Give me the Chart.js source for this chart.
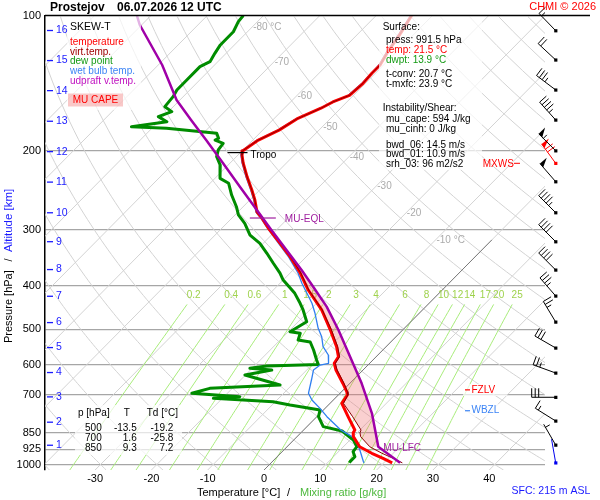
<!DOCTYPE html>
<html><head><meta charset="utf-8">
<style>html,body{margin:0;padding:0;background:#fff}canvas{display:block}</style>
<script src="https://cdn.jsdelivr.net/npm/chart.js@4/dist/chart.umd.min.js"></script>
</head><body>
<canvas id="c" width="600" height="500"></canvas>
<script>
// ---------------- DATA ----------------
const tempP = [100,110,120,128.9,134.5,141.6,150.6,155.8,160.9,170,180,190,200,204.5,213,229,244.7,257.6,274,282.5,297.3,321.1,345,374.6,408.7,452.7,500,546.5,575.4,595,616,660,688,700,731,783,838,850,867,913,944,969,991.5];
const tempT = [-53.7,-52.5,-51.6,-50.6,-50.6,-50.4,-50.7,-52.5,-53.5,-55.9,-57.1,-59.1,-59.9,-59.3,-57.7,-54.5,-51.4,-49.1,-46.6,-44.7,-41.8,-37.1,-32.8,-28.2,-23.8,-17.9,-13.0,-8.8,-6.7,-6.3,-4.8,-1.2,0.9,1.6,2.1,5.6,9.1,9.3,10.0,12.9,16.2,19.1,21.5];
const virtT = [-53.7,-52.5,-51.6,-50.6,-50.6,-50.4,-50.7,-52.5,-53.5,-55.9,-57.1,-59.1,-59.9,-59.3,-57.7,-54.5,-51.4,-49.1,-46.6,-44.7,-41.7,-37.0,-32.7,-28.1,-23.7,-17.8,-12.8,-8.6,-6.5,-6.1,-4.6,-1.0,1.0,1.7,2.4,6.4,10.2,10.5,11.3,14.7,18.0,20.9,23.3];
const dewP = [100,103.2,108.7,116.3,121.4,126.7,130,139.2,146.5,151.6,159.6,163.7,168,172.4,176.9,178.3,183,187.7,189.4,192.6,199.3,206.3,215.3,230.5,236.4,251.1,266.6,278.1,290.3,308.3,321.6,338.5,356.3,374.6,388.3,415.7,437.5,452.7,480.8,506.1,510.3,528.1,533.6,555.9,585.2,598.8,603.4,610.5,616,631.9,665.2,676.6,694.1,706.3,712.2,724.7,737.2,756.2,782.6,823.6,842,882,912.8,936.5,960.7,984,991.5];
const dewT = [-83.6,-83.4,-82.5,-82.5,-82.0,-81.4,-82.3,-82.3,-82.3,-81.8,-81.5,-79.4,-80.9,-78.5,-83.9,-77.4,-67.6,-66.4,-66.7,-64.7,-64.4,-63.5,-61.4,-59.1,-56.7,-54.1,-51.2,-49.4,-46.8,-43.8,-40.6,-37.6,-34.7,-31.8,-30.0,-25.6,-22.9,-21.2,-18.5,-19.7,-17.6,-16.8,-14.3,-12.3,-10.0,-8.9,-17.8,-20.4,-16.2,-20.1,-12.1,-24.0,-26.3,-17.2,-21.6,-10.4,-6.8,-0.6,0.3,2.9,7.0,10.6,12.4,12.6,13.8,13.8,13.9];
const wetP = [100,110,120,128.9,141.6,150.6,160.9,170,180,190,200,204.5,213,229,244.7,257.6,274,282.5,297.3,321.1,345,374.6,394.9,437.5,460.5,497.3,519.2,546.5,570.4,595.2,600.4,616,648.4,694.1,718.4,749.8,782.6,837.9,852.2,874.4,928.4,985.8,991.5];
const wetT = [-53.9,-52.7,-51.8,-50.8,-50.6,-50.9,-53.7,-56.1,-57.3,-59.3,-60.1,-59.5,-57.9,-54.7,-51.6,-49.3,-46.8,-44.9,-42.0,-37.4,-33.1,-28.6,-26.1,-20.8,-18.5,-15.3,-13.2,-11.2,-8.8,-7.3,-8.5,-8.8,-7.4,-5.6,-3.8,-0.9,1.8,6.6,8.2,10.6,13.5,16.2,16.5];
const parcelP = [100,105,128.9,154.2,170.9,189.4,213.4,240.6,271.1,300.4,368.8,401.8,445.1,501.7,585.2,659.6,769.2,912.8,991.5];
const parcelT = [-102.5,-100.3,-89.3,-80.6,-74.5,-68.3,-61.2,-54.1,-47.0,-40.9,-28.5,-23.5,-17.6,-11.4,-3.8,2.1,9.2,16.2,22.9];

const pressureTicks = [100,200,300,400,500,600,700,850,925,1000];
const tempTicks = [-30,-20,-10,0,10,20,30,40];
const altKm = [1,2,3,4,5,6,7,8,9,10,11,12,13,14,15,16];
const altP  = [906,805,707,624,549,483,422,368,319,275,235,201,172,147,126,108];
const mixRatios = [0.2,0.4,0.6,1,1.5,2,3,4,6,8,10,12,14,17,20,25];
const isoLabelT = [-80,-70,-60,-50,-40,-30,-20,-10];
const isoLabelP = [106.1,127.0,151.1,177.1,206.6,239.8,275.4,316.2];

const windP   = [991.5,905.1,800,708.4,625.5,550.2,481.6,421.4,368.8,319,274.9,234.5,213.4,200.1,170.9,146.5,125.6,108.1];
const windDir = [350,330,302,270,290,300,329,319,315,315,315,319,324,315,318,307,313,316];
const windSpd = [2,5,15,30,25,30,25,35,40,40,45,50,70,55,45,35,20,15];
const windMaxIndex = 12;

const tableP  = [500,700,850];
const tableT  = [-13.5,1.6,9.3];
const tableTd = [-19.2,-25.8,7.2];

const sfcPress = 991.5, sfcTemp = 21.5, sfcDwpt = 13.9, tConv = 20.7, tMxfc = 23.9;
const muCape = 594, muCinh = 0, bwd06 = 14.5, bwd01 = 10.9, srh03 = 96;
const tropoP = 202, eqlP = 282.5, lfcP = 912.8, fzlvP = 682, wbzlP = 759;
const stationAlt = 215;

// ---------------- GEOMETRY ----------------
const FONT = '"Liberation Sans", Arial, Helvetica, sans-serif';
const PBOT = 1028.6, SKEW = 78.95, XMIN = -38.9, XMAX = 49.9;
const skewX = (T, p) => T + SKEW * Math.log10(PBOT / p);
const toPts = (ps, ts) => ps.map((p, i) => ({x: skewX(ts[i], p), y: p}));

const capePoly = [
  ...parcelP.map((p, i) => ({p, t: parcelT[i]})).filter(o => o.p >= eqlP && o.p <= lfcP + 0.01).sort((a, b) => b.p - a.p),
  ...tempP.map((p, i) => ({p, t: virtT[i]})).filter(o => o.p >= eqlP && o.p <= lfcP + 1).sort((a, b) => a.p - b.p)
].map(o => ({x: skewX(o.t, o.p), y: o.p}));

function mixTd(w, p) {
  const e = w * p / (622 + w);
  const l = Math.log(e / 6.112);
  return 243.5 * l / (17.67 - l);
}
function txt(ctx, s, x, y, color, size, align, bold) {
  ctx.font = (bold ? 'bold ' : '') + size + 'px ' + FONT;
  ctx.fillStyle = color; ctx.textAlign = align || 'left'; ctx.textBaseline = 'middle';
  ctx.fillText(s, x, y);
  return ctx.measureText(s).width;
}

const bgPlugin = {
  id: 'skewbg',
  beforeDatasetsDraw(chart) {
    const {ctx, chartArea: a, scales: {x, y}} = chart;
    const px = (T, p) => x.getPixelForValue(skewX(T, p));
    const py = p => y.getPixelForValue(p);
    ctx.save();
    ctx.beginPath(); ctx.rect(a.left, a.top, a.right - a.left, a.bottom - a.top); ctx.clip();
    ctx.lineWidth = 1; ctx.strokeStyle = '#d3d3d3';
    for (let T = -140; T <= 50; T += 10) {
      ctx.beginPath(); ctx.moveTo(px(T, PBOT), py(PBOT)); ctx.lineTo(px(T, 100), py(100)); ctx.stroke();
    }
    for (let th = -40; th <= 200; th += 10) {
      ctx.beginPath();
      let first = true;
      for (let p = PBOT; p >= 99; p -= 8) {
        const T = (th + 273.15) * Math.pow(p / 1000, 0.2857) - 273.15;
        if (first) { ctx.moveTo(px(T, p), py(p)); first = false; } else ctx.lineTo(px(T, p), py(p));
      }
      ctx.stroke();
    }
    ctx.strokeStyle = '#a8ec7a';
    mixRatios.forEach(w => {
      ctx.beginPath();
      let first = true;
      for (let p = PBOT; p >= 440; p -= 10) {
        const T = mixTd(w, p);
        if (first) { ctx.moveTo(px(T, p), py(p)); first = false; } else ctx.lineTo(px(T, p), py(p));
      }
      const T = mixTd(w, 440); ctx.lineTo(px(T, 440), py(440));
      ctx.stroke();
    });
    ctx.strokeStyle = '#7a7a7a';
    ctx.beginPath(); ctx.moveTo(px(0, PBOT), py(PBOT)); ctx.lineTo(px(0, 316), py(316)); ctx.stroke();
    mixRatios.forEach(w => txt(ctx, String(w), px(mixTd(w, 420), 420), py(420), '#9fd24c', 10, 'center'));
    isoLabelT.forEach((T, i) => {
      const p = isoLabelP[i];
      txt(ctx, T + ((T === -80 || T === -10) ? ' °C' : ''), px(T, p) + 1, py(p), '#ababab', 10, 'left');
    });
    ctx.restore();
  }
};

function barb(ctx, bx, by, dir, spd, color) {
  const L = 24, r = dir * Math.PI / 180;
  const sx = Math.sin(r), sy = -Math.cos(r);
  const nx = -sy, ny = sx;
  const tx = bx + sx * L, ty = by + sy * L;
  ctx.strokeStyle = color; ctx.fillStyle = color; ctx.lineWidth = 1;
  ctx.beginPath(); ctx.moveTo(bx, by); ctx.lineTo(tx, ty); ctx.stroke();
  let s = Math.round(spd / 5) * 5, pos = 0;
  const BL = 9, step = 3.5;
  while (s >= 50) {
    const ax = tx - sx * pos, ay = ty - sy * pos;
    const cx = tx - sx * (pos + 5), cy = ty - sy * (pos + 5);
    ctx.beginPath(); ctx.moveTo(ax, ay); ctx.lineTo(ax + nx * BL, ay + ny * BL); ctx.lineTo(cx, cy); ctx.closePath(); ctx.fill();
    pos += 6.5; s -= 50;
  }
  while (s >= 10) {
    const ax = tx - sx * pos, ay = ty - sy * pos;
    ctx.beginPath(); ctx.moveTo(ax, ay); ctx.lineTo(ax + nx * BL, ay + ny * BL); ctx.stroke();
    pos += step; s -= 10;
  }
  if (s >= 5) {
    if (pos === 0) pos = step;
    const ax = tx - sx * pos, ay = ty - sy * pos;
    ctx.beginPath(); ctx.moveTo(ax, ay); ctx.lineTo(ax + nx * BL * 0.55, ay + ny * BL * 0.55); ctx.stroke();
  }
  ctx.fillRect(bx - 1.5, by - 1.5, 3.2, 3.2);
}

const fgPlugin = {
  id: 'skewfg',
  afterDatasetsDraw(chart) {
    const {ctx, chartArea: a, scales: {x, y}} = chart;
    const px = (T, p) => x.getPixelForValue(skewX(T, p));
    const py = p => y.getPixelForValue(p);
    const interp = (ps, ts, p) => {
      for (let i = 0; i < ps.length - 1; i++) {
        if (p >= ps[i] && p <= ps[i + 1]) {
          const f = Math.log(p / ps[i]) / Math.log(ps[i + 1] / ps[i]);
          return ts[i] + f * (ts[i + 1] - ts[i]);
        }
      }
      return ts[ts.length - 1];
    };
    ctx.save();
    // translucent panels
    ctx.fillStyle = 'rgba(255,255,255,0.7)';
    [[67,16,74,94],[379,16,103,154],[75,405,107,50],[463,384,44,12],[463,404,44,13]].forEach(b => ctx.fillRect(b[0], b[1], b[2], b[3]));
    // top line
    ctx.strokeStyle = '#000'; ctx.lineWidth = 1.5;
    ctx.beginPath(); ctx.moveTo(a.left, py(100)); ctx.lineTo(590, py(100)); ctx.stroke();
    // legend
    txt(ctx, 'SKEW-T', 70, 27, '#000', 10.5);
    txt(ctx, 'temperature', 70, 42.3, '#ff0000', 10);
    txt(ctx, 'virt.temp.', 70, 52.3, '#a00000', 10);
    txt(ctx, 'dew point', 70, 61.7, '#139a13', 10);
    txt(ctx, 'wet bulb temp.', 70, 71.7, '#3d85f5', 10);
    txt(ctx, 'udpraft v.temp.', 70, 81.7, '#c010c0', 10);
    ctx.fillStyle = 'rgba(240,110,110,0.38)'; ctx.fillRect(68, 93.5, 55, 13);
    txt(ctx, 'MU CAPE', 95.5, 100.5, '#ff0000', 10, 'center');
    // info panel
    txt(ctx, 'Surface:', 382.7, 27.3, '#000', 10);
    txt(ctx, 'press: ' + sfcPress + ' hPa', 386, 40, '#000', 10);
    txt(ctx, 'temp: ' + sfcTemp + ' °C', 386, 50, '#ff0000', 10);
    txt(ctx, 'dwpt: ' + sfcDwpt + ' °C', 386, 60, '#139a13', 10);
    txt(ctx, 't-conv: ' + tConv + ' °C', 386, 74, '#000', 10);
    txt(ctx, 't-mxfc: ' + tMxfc + ' °C', 386, 84.3, '#000', 10);
    txt(ctx, 'Instability/Shear:', 382.7, 108.3, '#000', 10);
    txt(ctx, 'mu_cape: ' + muCape + ' J/kg', 386, 119.3, '#000', 10);
    txt(ctx, 'mu_cinh: ' + muCinh + ' J/kg', 386, 129.3, '#000', 10);
    txt(ctx, 'bwd_06: ' + bwd06 + ' m/s', 386, 145, '#000', 10);
    txt(ctx, 'bwd_01: ' + bwd01 + ' m/s', 386, 154.7, '#000', 10);
    txt(ctx, 'srh_03: ' + srh03 + ' m2/s2', 386, 164.3, '#000', 10);
    // table
    txt(ctx, 'p [hPa]', 78, 413.3, '#000', 10);
    txt(ctx, 'T', 126.7, 413.3, '#000', 10, 'center');
    txt(ctx, 'Td [°C]', 146.7, 413.3, '#000', 10);
    tableP.forEach((p, i) => {
      const yy = 428.3 + i * 10;
      txt(ctx, String(p), 101.7, yy, '#000', 10, 'right');
      txt(ctx, tableT[i].toFixed(1), 136.7, yy, '#000', 10, 'right');
      txt(ctx, tableTd[i].toFixed(1), 173.3, yy, '#000', 10, 'right');
    });
    // markers
    const tT = interp(tempP, tempT, tropoP);
    const tx0 = px(tT, tropoP), ty0 = py(tropoP);
    ctx.strokeStyle = '#000'; ctx.lineWidth = 1.2;
    ctx.beginPath(); ctx.moveTo(tx0 - 15, ty0); ctx.lineTo(tx0 + 5, ty0); ctx.stroke();
    txt(ctx, 'Tropo', tx0 + 8, ty0 + 2.5, '#000', 10);
    const eT = interp(tempP, tempT, eqlP);
    const ex = px(eT, eqlP), ey = py(eqlP);
    ctx.strokeStyle = '#a020a0';
    ctx.beginPath(); ctx.moveTo(ex - 12, ey); ctx.lineTo(ex + 14, ey); ctx.stroke();
    txt(ctx, 'MU-EQL', ex + 23, ey + 1, '#a020a0', 10);
    const lT = interp(parcelP, parcelT, lfcP);
    txt(ctx, 'MU-LFC', px(lT, lfcP) + 5, py(lfcP) + 1.8, '#a020a0', 10);
    ctx.strokeStyle = '#ff0000';
    ctx.beginPath(); ctx.moveTo(465, py(fzlvP)); ctx.lineTo(470, py(fzlvP)); ctx.stroke();
    txt(ctx, 'FZLV', 471.5, py(fzlvP), '#ff0000', 10);
    ctx.strokeStyle = '#3d85f5';
    ctx.beginPath(); ctx.moveTo(465, py(wbzlP)); ctx.lineTo(470, py(wbzlP)); ctx.stroke();
    txt(ctx, 'WBZL', 471.5, py(wbzlP), '#3d85f5', 10);
    // altitude scale
    altKm.forEach((k, i) => {
      const yy = py(altP[i]);
      ctx.strokeStyle = '#1a1aff'; ctx.lineWidth = 1.3;
      ctx.beginPath(); ctx.moveTo(47, yy); ctx.lineTo(53, yy); ctx.stroke();
      txt(ctx, String(k), 56, yy, '#1a1aff', 10.5);
    });
    // wind barbs
    windP.forEach((p, i) => {
      const col = i === 0 ? '#0000ee' : (i === windMaxIndex ? '#ff0000' : '#000');
      barb(ctx, 555.7, py(p), windDir[i], windSpd[i], col);
    });
    const my = py(windP[windMaxIndex]);
    txt(ctx, 'MXWS', 482.7, my + 1, '#ff0000', 10);
    ctx.strokeStyle = '#ff0000'; ctx.lineWidth = 1;
    ctx.beginPath(); ctx.moveTo(514, my); ctx.lineTo(520, my); ctx.stroke();
    ctx.restore();
  },
  afterDraw(chart) {
    const {ctx} = chart;
    ctx.save();
    txt(ctx, 'Prostejov', 50, 8, '#000', 12, 'left', true);
    txt(ctx, '06.07.2026 12 UTC', 117, 8, '#000', 12, 'left', true);
    txt(ctx, 'CHMI © 2026', 596, 7, '#ff0000', 11, 'right');
    txt(ctx, 'Temperature [°C]', 197, 493, '#000', 11);
    txt(ctx, '/', 288.5, 493, '#000', 11, 'center');
    txt(ctx, 'Mixing ratio [g/kg]', 300, 493, '#4cb83c', 11);
    txt(ctx, 'SFC: ' + stationAlt + ' m ASL', 511.5, 491, '#1a1aff', 10.5);
    ctx.translate(9, 343); ctx.rotate(-Math.PI / 2);
    txt(ctx, 'Pressure [hPa]', 0, 0, '#000', 11);
    txt(ctx, '/', 83, 0, '#000', 11, 'center');
    txt(ctx, 'Altitude [km]', 91, 0, '#1a1aff', 11.5);
    ctx.restore();
  }
};

new Chart(document.getElementById('c'), {
  type: 'line',
  data: {
    datasets: [
      {label: 'MU CAPE', data: capePoly, fill: 'shape', backgroundColor: 'rgba(240,110,110,0.32)', borderColor: 'rgba(0,0,0,0)', borderWidth: 0.01, order: 10},
      {label: 'dew point', data: toPts(dewP, dewT), borderColor: '#008c00', borderWidth: 3, fill: false, order: 6},
      {label: 'wet bulb temp.', data: toPts(wetP, wetT), borderColor: '#2f7ff0', borderWidth: 1.3, fill: false, order: 5},
      {label: 'temperature', data: toPts(tempP, tempT), borderColor: '#ff0000', borderWidth: 3, fill: false, order: 4},
      {label: 'virt.temp.', data: toPts(tempP, virtT), borderColor: '#8b0000', borderWidth: 1, fill: false, order: 3},
      {label: 'udpraft v.temp.', data: toPts(parcelP, parcelT), borderColor: '#a000a8', borderWidth: 2.5, fill: false, order: 2}
    ]
  },
  options: {
    responsive: false,
    animation: false,
    layout: {padding: {left: 0, right: 55, top: 15.5, bottom: 0}},
    elements: {point: {radius: 0, hoverRadius: 0}, line: {tension: 0, borderJoinStyle: 'round'}},
    plugins: {legend: {display: false}, tooltip: {enabled: false}, title: {display: false}},
    events: [],
    scales: {
      x: {
        type: 'linear', min: XMIN, max: XMAX,
        afterFit(s) { s.height = 30; },
        afterBuildTicks(s) { s.ticks = tempTicks.map(v => ({value: v})); },
        grid: {display: false, drawTicks: false}, border: {display: false},
        ticks: {color: '#000', font: {family: FONT, size: 11}, padding: 2, maxRotation: 0, autoSkip: false, callback: v => String(v)}
      },
      y: {
        type: 'logarithmic', min: 100, max: PBOT, reverse: true,
        afterFit(s) { s.width = 45; },
        afterBuildTicks(s) { s.ticks = pressureTicks.map(v => ({value: v})); },
        grid: {color: c => (c.tick && c.tick.value === 100) ? 'rgba(0,0,0,0)' : '#a6a6a6', lineWidth: 1.3, drawTicks: false},
        border: {display: true, color: '#000', width: 1.5},
        ticks: {color: '#000', font: {family: FONT, size: 11}, padding: 4, autoSkip: false, callback: v => String(v)}
      }
    }
  },
  plugins: [bgPlugin, fgPlugin]
});
</script>
</body></html>
